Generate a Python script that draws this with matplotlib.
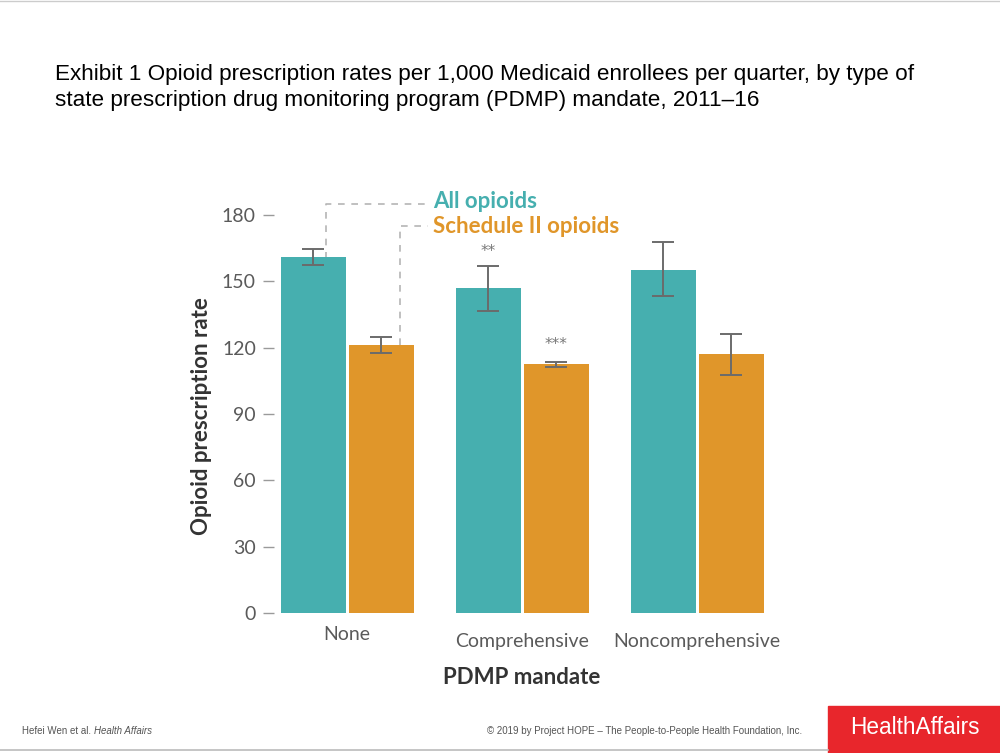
import matplotlib
matplotlib.use("Agg")
import matplotlib.pyplot as plt
from matplotlib.patches import Rectangle
from matplotlib.lines import Line2D
import numpy as np

categories = ["None", "Comprehensive", "Noncomprehensive"]
all_opioids = [161, 147, 155]
all_low = [157.5, 136.6, 143.4]
all_high = [164.7, 157.0, 167.8]
sched2 = [121.2, 112.6, 117.1]
sched2_low = [117.6, 111.3, 107.6]
sched2_high = [124.8, 113.5, 126.2]
yticks = [0, 30, 60, 90, 120, 150, 180]

TEAL = "#46AFAF"
ORANGE = "#E0962A"
GREY = "#5a5a5a"
FONT = "Lato"

W, H = 1000, 753
fig = plt.figure(figsize=(W / 100, H / 100), dpi=100)

# axes placed in pixel terms
px_left, px_right = 274, 790
px_bottom = 613
ymax = 190
px_per_unit = 398 / 180
ax_h = ymax * px_per_unit
ax = fig.add_axes([px_left / W, 1 - px_bottom / H, (px_right - px_left) / W, ax_h / H])

centers = np.arange(len(categories))
spacing = 175.0
ax.set_xlim((px_left - 347) / spacing, (px_right - 347) / spacing)
ax.set_ylim(0, ymax)

bw = 65 / spacing
off = 34 / spacing
x_all = centers - off
x_s2 = centers + off
ax.bar(x_all, all_opioids, width=bw, color=TEAL, zorder=2)
ax.bar(x_s2, sched2, width=bw, color=ORANGE, zorder=2)

err_all = [np.array(all_opioids) - np.array(all_low), np.array(all_high) - np.array(all_opioids)]
err_s2 = [np.array(sched2) - np.array(sched2_low), np.array(sched2_high) - np.array(sched2)]
ax.errorbar(x_all, all_opioids, yerr=err_all, fmt="none", ecolor="#6b6b6b",
            elinewidth=1.4, capsize=8, capthick=1.4, zorder=3)
ax.errorbar(x_s2, sched2, yerr=err_s2, fmt="none", ecolor="#6b6b6b",
            elinewidth=1.4, capsize=8, capthick=1.4, zorder=3)

for s in ax.spines.values():
    s.set_visible(False)
ax.set_yticks(yticks)
ax.tick_params(axis="y", length=8, width=1, color="#9a9a9a", pad=5,
               labelsize=14, labelcolor=GREY)
for lab in ax.get_yticklabels():
    lab.set_family(FONT)
ax.set_xticks([])

# category labels (None sits a bit higher in the original)
label_drop = [21, 28, 28]
for i, name in enumerate(categories):
    ax.annotate(name, xy=(centers[i], 0), xytext=(0, -label_drop[i]),
                textcoords="offset pixels", ha="center", va="center",
                fontsize=14, color=GREY, family=FONT)

ax.set_ylabel("Opioid prescription rate", fontsize=16, fontweight="bold",
              color="#333333", family=FONT)
ax.yaxis.set_label_coords(-62 / (px_right - px_left), (613 - 416) / ax_h)
ax.annotate("PDMP mandate", xy=(centers[1], 0), xytext=(0, -65),
            textcoords="offset pixels", ha="center", va="center",
            fontsize=16, fontweight="bold", color="#333333", family=FONT)

# significance stars
ax.annotate("**", xy=(x_all[1], all_high[1]), xytext=(0, 14), textcoords="offset pixels",
            ha="center", va="center", fontsize=11, color="#777777")
ax.annotate("***", xy=(x_s2[1], sched2_high[1]), xytext=(0, 18), textcoords="offset pixels",
            ha="center", va="center", fontsize=11, color="#777777")

# legend-style callouts with dashed leaders
dash = dict(color="#b5b5b5", lw=1.2, ls=(0, (4, 4)), zorder=1)
y1 = 613 - 204
y2 = 613 - 226
def ypx(v):
    return (y1 if v == 1 else y2) / px_per_unit
x_lead1 = (326 - 347) / spacing
x_lead2 = (400 - 347) / spacing
x_end = (428 - 347) / spacing
ax.plot([x_lead1, x_lead1, x_end], [154, ypx(1), ypx(1)], **dash, clip_on=False)
ax.plot([x_lead2, x_lead2, x_end], [sched2[0], ypx(2), ypx(2)], **dash, clip_on=False)
x_txt = (433 - 347) / spacing
ax.text(x_txt, (613 - 201) / px_per_unit, "All opioids", color=TEAL, fontsize=16,
        fontweight="bold", family=FONT, va="center", ha="left")
ax.text(x_txt, (613 - 226) / px_per_unit, "Schedule II opioids", color=ORANGE, fontsize=16,
        fontweight="bold", family=FONT, va="center", ha="left")

# title
fig.text(55 / W, 1 - 64 / H,
         "Exhibit 1 Opioid prescription rates per 1,000 Medicaid enrollees per quarter, by type of\n"
         "state prescription drug monitoring program (PDMP) mandate, 2011\u201316",
         fontsize=16.2, family="Liberation Sans", color="black", va="top",
         ha="left", linespacing=1.3)

# footer
fig.text(22 / W, 1 - 731 / H, "Hefei Wen et al.", fontsize=7, color="#555555",
         family="Liberation Sans", va="center")
fig.text(94 / W, 1 - 731 / H, "Health Affairs", fontsize=7, color="#555555",
         family="Liberation Sans", style="italic", va="center")
fig.text(645 / W, 1 - 731 / H,
         "\u00a9 2019 by Project HOPE \u2013 The People-to-People Health Foundation, Inc.",
         fontsize=7, color="#555555", family="Liberation Sans", va="center", ha="center")
fig.patches.append(Rectangle((828 / W, 0), 172 / W, 47 / H, transform=fig.transFigure,
                             color="#E8262C", zorder=0))
fig.text(915 / W, 1 - 727 / H, "HealthAffairs", fontsize=16.3, color="white",
         family="Liberation Sans", va="center", ha="center")
fig.lines.append(Line2D([0, 828 / W], [3 / H, 3 / H], transform=fig.transFigure,
                        color="#bbbbbb", lw=1.2))
fig.lines.append(Line2D([0, 1], [1 - 0.5 / H, 1 - 0.5 / H], transform=fig.transFigure,
                        color="#cccccc", lw=1))

fig.savefig("out.png", dpi=100)
